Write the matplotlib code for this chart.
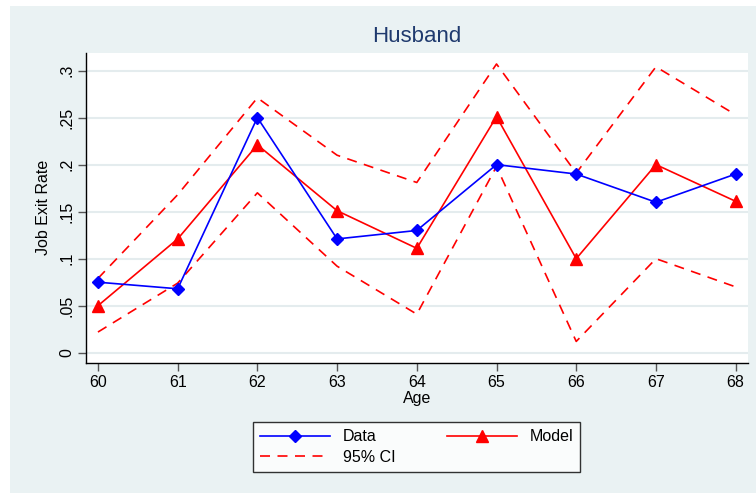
import matplotlib.pyplot as plt
from matplotlib.patches import Rectangle
from matplotlib.ticker import FuncFormatter

plt.rcParams['font.family'] = ['Liberation Sans', 'DejaVu Sans']

ages = [60, 61, 62, 63, 64, 65, 66, 67, 68]
data_rate = [0.075, 0.068, 0.25, 0.121, 0.13, 0.20, 0.19, 0.16, 0.19]
model_rate = [0.05, 0.121, 0.221, 0.151, 0.111, 0.251, 0.10, 0.20, 0.161]
ci_upper = [0.079, 0.168, 0.271, 0.21, 0.181, 0.307, 0.191, 0.304, 0.253]
ci_lower = [0.022, 0.074, 0.17, 0.092, 0.041, 0.198, 0.012, 0.10, 0.07]
y_ticks = [0, 0.05, 0.1, 0.15, 0.2, 0.25, 0.3]

bg = '#EAF2F3'
grid_col = '#E4ECEE'
title_col = '#1F3A6E'

fig = plt.figure(figsize=(7.56, 4.93), dpi=100)
fig.patch.set_facecolor('white')
# shaded graph region
fig.patches.append(Rectangle((10 / 756, 0), 1 - 10 / 756, 1 - 5.7 / 493,
                             transform=fig.transFigure, facecolor=bg,
                             edgecolor='none', zorder=-10))

ax = fig.add_axes([86 / 756, 1 - 362.7 / 493, 662 / 756, 310 / 493])
ax.set_facecolor('white')

dash = (0, (6, 4.5))
ax.plot(ages, data_rate, color='blue', lw=1.2, marker='D', markersize=6.2,
        label='Data', zorder=4)
ax.plot(ages, model_rate, color='red', lw=1.2, marker='^', markersize=8,
        label='Model', zorder=3)
ax.plot(ages, ci_upper, color='red', lw=1.2, linestyle=dash,
        label='95% CI', zorder=2)
ax.plot(ages, ci_lower, color='red', lw=1.2, linestyle=dash, zorder=2)

ax.set_xlim(59.85, 68.155)
ax.set_ylim(-0.0106, 0.319)
ax.set_xticks(ages)
ax.set_yticks(y_ticks)

def fmt(v, pos):
    if abs(v) < 1e-9:
        return '0'
    s = ('%.2f' % v).rstrip('0')
    return s[1:] if s.startswith('0') else s

ax.yaxis.set_major_formatter(FuncFormatter(fmt))
ax.grid(axis='y', color=grid_col, lw=1.5, zorder=0)
ax.set_axisbelow(True)

for side in ['top', 'right']:
    ax.spines[side].set_visible(False)
for side in ['left', 'bottom']:
    ax.spines[side].set_color('black')
    ax.spines[side].set_linewidth(1.0)

ax.tick_params(axis='both', colors='#555555', length=5.5, width=1.0,
               labelcolor='black', labelsize=11.5, pad=3)
for lab in ax.get_yticklabels():
    lab.set_rotation(90)
    lab.set_va('center')

ax.set_xlabel('Age', fontsize=11.5, labelpad=1)
ax.set_ylabel('Job Exit Rate', fontsize=11.5, labelpad=6)
ax.set_title('Husband', fontsize=16, color=title_col, pad=8)

h, l = ax.get_legend_handles_labels()
order = [0, 2, 1]
leg = fig.legend([h[i] for i in order], [l[i] for i in order],
                 loc='center', bbox_to_anchor=(416.5 / 756, 1 - 447 / 493),
                 ncol=2, fontsize=11.5, frameon=True, fancybox=False,
                 edgecolor='black', handlelength=4.4, columnspacing=3.2,
                 handletextpad=0.8, borderpad=0.45, labelspacing=0.35)
leg.get_frame().set_linewidth(1.0)

fig.savefig('out.png', dpi=100, facecolor=fig.get_facecolor())
